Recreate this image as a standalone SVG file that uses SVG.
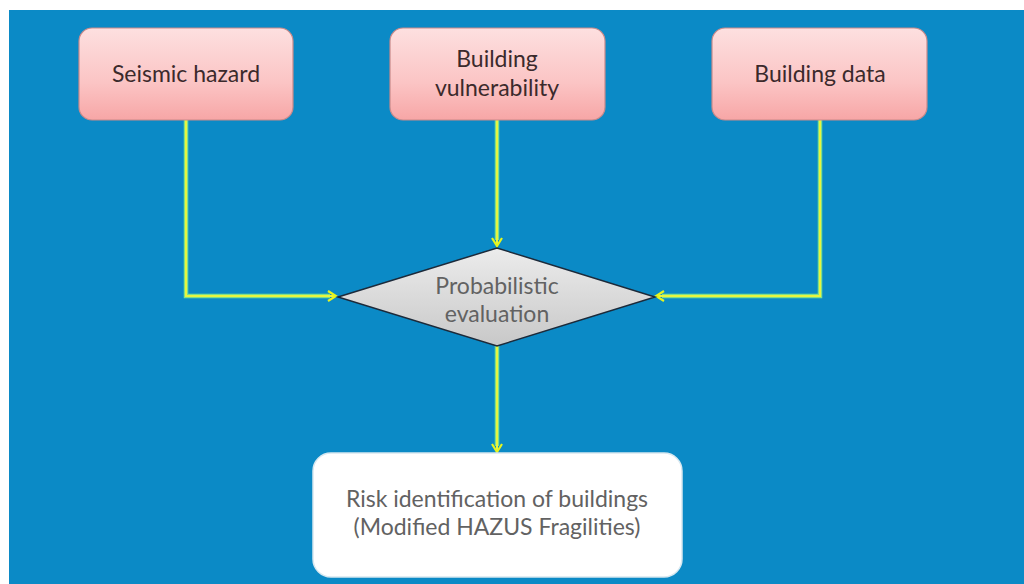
<svg xmlns="http://www.w3.org/2000/svg" width="1024" height="584" viewBox="0 0 1024 584">
<defs>
<linearGradient id="pink" x1="0" y1="0" x2="0" y2="1">
<stop offset="0" stop-color="#fde0e0"/>
<stop offset="0.6" stop-color="#fbc4c4"/>
<stop offset="1" stop-color="#f7a6a6"/>
</linearGradient>
<linearGradient id="grey" x1="0" y1="0" x2="0" y2="1">
<stop offset="0" stop-color="#ececec"/>
<stop offset="1" stop-color="#c8c8c8"/>
</linearGradient>
<marker id="arr" viewBox="0 0 12 12" refX="10" refY="6" markerWidth="12" markerHeight="12" markerUnits="userSpaceOnUse" orient="auto">
<polyline points="2,1 10,6 2,11" fill="none" stroke="#e6f51e" stroke-width="2.2"/>
</marker>
</defs>
<style>
.pinkbox{fill:url(#pink);stroke:#c98a8a;stroke-width:1.2}
.t{font-family:Lato,"Open Sans","Liberation Sans",sans-serif;font-size:23px;text-anchor:middle}
.dark{fill:#3b2a2c}
.gray{fill:#626262}
.glow{fill:none;stroke:#7fe08a;stroke-width:4.5}
.line{fill:none;stroke:#e8f540;stroke-width:2}
</style>
<rect x="0" y="0" width="1024" height="584" fill="#ffffff"/>
<rect x="9" y="10" width="1015" height="574" fill="#0b8ac6"/>
<g id="connectors">
<path class="glow" d="M186,120 V296 H330"/>
<path class="glow" d="M497,120 V240"/>
<path class="glow" d="M820,120 V296 H662"/>
<path class="glow" d="M497,346 V446"/>
<path class="line" d="M186,120 V296 H336" marker-end="url(#arr)"/>
<path class="line" d="M497,120 V246" marker-end="url(#arr)"/>
<path class="line" d="M820,120 V296 H656" marker-end="url(#arr)"/>
<path class="line" d="M497,346 V452" marker-end="url(#arr)"/>
</g>
<g id="seismic">
<rect class="pinkbox" x="79" y="28" width="214" height="92" rx="13"/>
<text class="t dark" x="186" y="82">Seismic hazard</text>
</g>
<g id="vulnerability">
<rect class="pinkbox" x="390" y="28" width="215" height="92" rx="13"/>
<text class="t dark" x="497" y="67">Building</text>
<text class="t dark" x="497" y="96">vulnerability</text>
</g>
<g id="data">
<rect class="pinkbox" x="712" y="28" width="215" height="92" rx="13"/>
<text class="t dark" x="820" y="82">Building data</text>
</g>
<g id="evaluation">
<polygon points="338,297 497,248 655,297 497,346" fill="url(#grey)" stroke="#1c2a3a" stroke-width="1.5"/>
<text class="t gray" x="497" y="294">Probabilistic</text>
<text class="t gray" x="497" y="322">evaluation</text>
</g>
<g id="risk">
<rect x="313" y="453" width="369" height="124" rx="18" fill="#ffffff" stroke="#d8e8f0" stroke-width="1.5"/>
<text class="t gray" x="497" y="507">Risk identification of buildings</text>
<text class="t gray" x="497" y="535">(Modified HAZUS Fragilities)</text>
</g>
</svg>
